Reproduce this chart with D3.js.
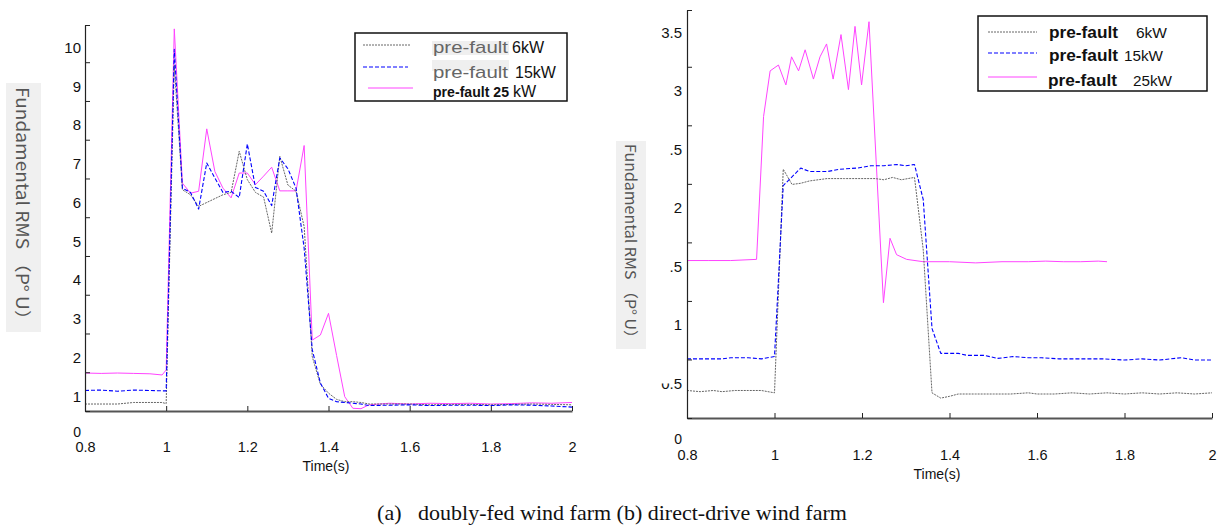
<!DOCTYPE html>
<html>
<head>
<meta charset="utf-8">
<script src="https://cdn.jsdelivr.net/npm/d3@7"></script>
<style>
  body { margin: 0; background: #fff; }
  svg { display: block; }
  .tick text { font-family: "Liberation Sans", Arial, sans-serif; fill: #111; }
</style>
</head>
<body>
<div id="chart"></div>
<script>
// (a) doubly-fed wind farm: time (s) and fundamental RMS (p.u.) per pre-fault load
const dfTime = [0.80, 0.84, 0.88, 0.92, 0.96, 0.99, 1.00,
  1.02, 1.04, 1.06, 1.08, 1.10, 1.12, 1.14, 1.16, 1.18, 1.20, 1.22, 1.24, 1.26, 1.28, 1.30, 1.32, 1.34,
  1.36, 1.38, 1.40, 1.42, 1.44, 1.46, 1.48, 1.50,
  1.55, 1.60, 1.65, 1.70, 1.75, 1.80, 1.85, 1.90, 1.95, 2.00];
const df6kW = [0.80, 0.80, 0.80, 0.84, 0.84, 0.84, 0.81,
  9.55, 6.33, 6.20, 5.90, 6.00, 6.10, 6.20, 6.26, 7.32, 6.59, 6.26, 6.14, 5.21, 7.19, 6.45, 6.29, 5.38,
  2.02, 1.31, 1.08, 0.92, 0.86, 0.86, 0.84, 0.80,
  0.80, 0.80, 0.78, 0.79, 0.79, 0.78, 0.79, 0.80, 0.79, 0.78];
const df15kW = [1.15, 1.16, 1.13, 1.16, 1.15, 1.14, 1.14,
  9.95, 6.37, 6.26, 5.83, 7.02, 6.63, 6.26, 6.29, 6.13, 7.51, 6.39, 6.29, 5.92, 7.15, 6.87, 6.37, 4.82,
  2.20, 1.34, 0.95, 0.86, 0.84, 0.82, 0.80, 0.76,
  0.77, 0.78, 0.76, 0.77, 0.77, 0.76, 0.78, 0.77, 0.75, 0.72];
const df25kW = [1.60, 1.59, 1.60, 1.59, 1.58, 1.55, 1.68,
  10.48, 6.50, 6.24, 6.29, 7.90, 6.80, 6.37, 6.12, 6.76, 6.76, 6.46, 6.68, 6.91, 6.30, 6.30, 6.30, 7.47,
  2.45, 2.58, 3.14, 2.05, 0.99, 0.69, 0.68, 0.78,
  0.82, 0.80, 0.82, 0.81, 0.82, 0.80, 0.81, 0.83, 0.82, 0.84];

// (b) direct-drive wind farm: [time, value] pairs, the 25kW trace stops at 1.76 s
const dd6kW = [[0.80, 0.44], [0.83, 0.43], [0.86, 0.44], [0.88, 0.43], [0.91, 0.44], [0.94, 0.44], [0.97, 0.44], [1.00, 0.42],
  [1.02, 2.33], [1.04, 2.20], [1.06, 2.21], [1.08, 2.23], [1.10, 2.24], [1.12, 2.25], [1.16, 2.25], [1.20, 2.25],
  [1.23, 2.25], [1.25, 2.24], [1.27, 2.26], [1.29, 2.24], [1.32, 2.26], [1.34, 1.64], [1.36, 0.42], [1.38, 0.375],
  [1.40, 0.39], [1.42, 0.41], [1.46, 0.41], [1.50, 0.41], [1.54, 0.41], [1.58, 0.42], [1.60, 0.41], [1.64, 0.41],
  [1.68, 0.42], [1.72, 0.41], [1.76, 0.42], [1.80, 0.41], [1.84, 0.42], [1.88, 0.41], [1.92, 0.42], [1.96, 0.41], [2.00, 0.42]];
const dd15kW = [[0.80, 0.71], [0.85, 0.71], [0.88, 0.71], [0.90, 0.72], [0.94, 0.72], [0.97, 0.71], [1.00, 0.73],
  [1.02, 2.19], [1.06, 2.34], [1.08, 2.31], [1.12, 2.31], [1.15, 2.33], [1.19, 2.34], [1.22, 2.36], [1.25, 2.36],
  [1.28, 2.37], [1.30, 2.36], [1.32, 2.37], [1.34, 2.07], [1.36, 0.97], [1.38, 0.757], [1.42, 0.757], [1.44, 0.74],
  [1.48, 0.74], [1.51, 0.714], [1.545, 0.73], [1.58, 0.72], [1.61, 0.72], [1.65, 0.71], [1.70, 0.71], [1.75, 0.71],
  [1.80, 0.70], [1.84, 0.71], [1.88, 0.70], [1.93, 0.72], [1.96, 0.70], [2.00, 0.70]];
const dd25kW = [[0.80, 1.55], [0.85, 1.55], [0.90, 1.55], [0.959, 1.56], [0.975, 2.78], [0.99, 3.17], [1.009, 3.22],
  [1.026, 3.05], [1.039, 3.29], [1.055, 3.17], [1.07, 3.35], [1.089, 3.10], [1.104, 3.29], [1.119, 3.40], [1.134, 3.10],
  [1.152, 3.48], [1.169, 3.01], [1.184, 3.55], [1.199, 3.05], [1.216, 3.59], [1.249, 1.19], [1.264, 1.74], [1.279, 1.60],
  [1.302, 1.56], [1.34, 1.54], [1.40, 1.54], [1.46, 1.53], [1.52, 1.54], [1.58, 1.54], [1.62, 1.545], [1.66, 1.54],
  [1.70, 1.54], [1.74, 1.545], [1.76, 1.54]];

// axis ticks and labels
const xTicks = [0.8, 1, 1.2, 1.4, 1.6, 1.8, 2];
const dfTickMarks = [0.62, 1.62, 2.62, 3.62, 4.62, 5.62, 6.62, 7.62, 8.62, 9.62, 10.58];
const dfTickLabels = [0, 1, 2, 3, 4, 5, 6, 7, 8, 9, 10];
const ddTickMarks = [0.205, 0.705, 1.205, 1.705, 2.205, 2.705, 3.205, 3.69];
const ddTickLabels = [0, 0.5, 1, 1.5, 2, 2.5, 3, 3.5];
const ddLabelText = { 0: "0", 0.5: "0.5", 1: "1", 1.5: ".5", 2: "2", 2.5: ".5", 3: "3", 3.5: "3.5" };

const yTitle = "Fundamental RMS （P° U）";
const caption = "(a)   doubly-fed wind farm (b) direct-drive wind farm";

const W = 1221, H = 530;
const svg = d3.select("#chart").append("svg").attr("width", W).attr("height", H);
svg.append("rect").attr("width", W).attr("height", H).attr("fill", "#fff");

const styles = {
    black: { stroke: "#666", dash: "2,1", width: 1 },
    blue: { stroke: "#0000ff", dash: "4,2", width: 1.1 },
    pink: { stroke: "#ff44ff", dash: null, width: 1 }
};

function drawPanel(cfg)
{
    const x = d3.scaleLinear().domain([0.8, 2]).range([cfg.x0, cfg.x1]);
    const y = d3.scaleLinear().domain(cfg.yDomain).range([cfg.yBottom, cfg.yTop]);
    const g = svg.append("g");

    // y title with grey box
    g.append("rect")
        .attr("x", cfg.titleBox[0]).attr("y", cfg.titleBox[1])
        .attr("width", cfg.titleBox[2]).attr("height", cfg.titleBox[3])
        .attr("fill", "#f0f0f0");
    g.append("text")
        .attr("transform", `translate(${cfg.titleX},${cfg.titleY0}) rotate(90)`)
        .attr("dominant-baseline", "central")
        .attr("textLength", cfg.titleLen)
        .attr("lengthAdjust", "spacingAndGlyphs")
        .attr("font-family", "'Noto Sans CJK SC', 'Noto Sans', sans-serif")
        .attr("font-size", cfg.titleSize)
        .attr("fill", "#555")
        .text(yTitle);

    // series
    const line = d3.line().x(d => x(d[0])).y(d => y(d[1]));
    for (const s of cfg.series)
    {
        const st = styles[s.style];
        g.append("path")
            .attr("d", line(s.data))
            .attr("fill", "none")
            .attr("stroke", st.stroke)
            .attr("stroke-width", st.width)
            .attr("stroke-dasharray", st.dash)
            .attr("stroke-linejoin", "round");
    }

    // x axis
    const xa = g.append("g").attr("transform", `translate(0,${cfg.yBottom})`)
        .call(d3.axisBottom(x).tickValues(xTicks).tickSize(-5).tickSizeOuter(0).tickPadding(cfg.xPad)
            .tickFormat(d3.format("")));
    xa.select(".domain").attr("stroke", "#555").attr("stroke-width", 2);
    xa.selectAll(".tick line").attr("stroke", "#222");
    xa.selectAll(".tick text").attr("font-size", 14.5);

    // y axis: tick marks
    const ya = g.append("g").attr("transform", `translate(${cfg.x0},0)`)
        .call(d3.axisLeft(y).tickValues(cfg.tickMarks).tickSize(-5).tickSizeOuter(0).tickFormat(""));
    ya.select(".domain").attr("stroke", "#222").attr("stroke-width", 1.2);
    ya.selectAll(".tick line").attr("stroke", "#222");

    // y axis: labels (placed apart from the marks, as in the figure)
    const yl = g.append("g").attr("transform", `translate(${cfg.x0},0)`)
        .call(d3.axisLeft(y).tickValues(cfg.tickLabels).tickSize(0).tickPadding(cfg.yPad)
            .tickFormat(cfg.labelFormat));
    yl.select(".domain").remove();
    yl.selectAll(".tick text").attr("font-size", 15);
    yl.selectAll(".tick").filter(d => d === 0).select("text").attr("font-size", 14).attr("dy", "0.1em");

    g.append("text")
        .attr("x", cfg.timeX).attr("y", cfg.timeY)
        .attr("text-anchor", "middle")
        .attr("font-family", "'Liberation Sans', Arial, sans-serif")
        .attr("font-size", 14)
        .attr("fill", "#111")
        .text("Time(s)");

    return { x, y, g };
}

const left = drawPanel({
    x0: 85, x1: 572, yBottom: 411, yTop: 25, yDomain: [0.62, 10.58],
    tickMarks: dfTickMarks, tickLabels: dfTickLabels, labelFormat: d3.format("d"),
    xPad: 31, yPad: 4,
    titleBox: [6, 83, 35, 249], titleX: 23, titleY0: 87, titleLen: 242, titleSize: 17,
    timeX: 326, timeY: 471,
    series: [
        { style: "pink", data: dfTime.map((t, i) => [t, df25kW[i]]) },
        { style: "black", data: dfTime.map((t, i) => [t, df6kW[i]]) },
        { style: "blue", data: dfTime.map((t, i) => [t, df15kW[i]]) }
    ]
});

const right = drawPanel({
    x0: 687, x1: 1212, yBottom: 418, yTop: 10, yDomain: [0.205, 3.69],
    tickMarks: ddTickMarks, tickLabels: ddTickLabels, labelFormat: d => ddLabelText[d],
    xPad: 32, yPad: 5,
    titleBox: [616, 141, 30, 208], titleX: 631, titleY0: 144, titleLen: 202, titleSize: 15,
    timeX: 937, timeY: 479,
    series: [
        { style: "pink", data: dd25kW },
        { style: "black", data: dd6kW },
        { style: "blue", data: dd15kW }
    ]
});

// the "0" of the lowest 0.5 label is cut off in the figure
right.g.append("rect")
    .attr("x", 658).attr("y", right.y(0.5) - 7).attr("width", 12).attr("height", 7).attr("fill", "#fff");

// legends
function legendLine(g, x1, x2, yy, style)
{
    const st = styles[style];
    g.append("line").attr("x1", x1).attr("x2", x2).attr("y1", yy).attr("y2", yy)
        .attr("stroke", st.stroke).attr("stroke-width", st.width).attr("stroke-dasharray", st.dash);
}
function legendText(g, x, yy, txt, len, opt)
{
    const t = g.append("text").attr("x", x).attr("y", yy)
        .attr("dominant-baseline", "central")
        .attr("font-family", "'Liberation Sans', Arial, sans-serif")
        .attr("font-size", opt.size)
        .attr("font-weight", opt.bold ? "bold" : "normal")
        .attr("fill", opt.fill || "#111")
        .text(txt);
    if (len) t.attr("textLength", len).attr("lengthAdjust", "spacingAndGlyphs");
    return t;
}

const lg = svg.append("g");
lg.append("rect").attr("x", 355).attr("y", 33).attr("width", 212).attr("height", 68)
    .attr("fill", "#fff").attr("stroke", "#111").attr("stroke-width", 1.5);
legendLine(lg, 363, 410, 45, "black");
legendLine(lg, 363, 408, 67, "blue");
legendLine(lg, 368, 413, 88, "pink");
lg.append("rect").attr("x", 432).attr("y", 41).attr("width", 77).attr("height", 14).attr("fill", "#efefef");
lg.append("rect").attr("x", 432).attr("y", 60).attr("width", 77).attr("height", 11).attr("fill", "#efefef");
legendText(lg, 433, 47, "pre-fault", 75, { size: 17, fill: "#666" });
legendText(lg, 512, 47, "6kW", null, { size: 16 });
legendText(lg, 433, 72, "pre-fault", 75, { size: 17, fill: "#666" });
legendText(lg, 515, 72, "15kW", null, { size: 16 });
legendText(lg, 433, 91, "pre-fault 25", 76, { size: 15, bold: true });
legendText(lg, 513, 91, "kW", null, { size: 16 });

const rg = svg.append("g");
rg.append("rect").attr("x", 978).attr("y", 16).attr("width", 229).attr("height", 75)
    .attr("fill", "#fff").attr("stroke", "#111").attr("stroke-width", 1.5);
legendLine(rg, 988, 1037, 32, "black");
legendLine(rg, 988, 1037, 53, "blue");
legendLine(rg, 988, 1037, 77, "pink");
legendText(rg, 1049, 32, "pre-fault", 69, { size: 16, bold: true });
legendText(rg, 1136, 32, "6kW", 31, { size: 15 });
legendText(rg, 1049, 55, "pre-fault", 69, { size: 16, bold: true });
legendText(rg, 1124, 55, "15kW", 39, { size: 15 });
legendText(rg, 1048, 80, "pre-fault", 69, { size: 16, bold: true });
legendText(rg, 1133, 80, "25kW", 39, { size: 15 });

// caption
svg.append("text")
    .attr("x", 612).attr("y", 520)
    .attr("text-anchor", "middle")
    .attr("font-family", "'Liberation Serif', 'Times New Roman', serif")
    .attr("font-size", 22)
    .attr("fill", "#111")
    .attr("xml:space", "preserve")
    .style("white-space", "pre")
    .text(caption);
</script>
</body>
</html>
